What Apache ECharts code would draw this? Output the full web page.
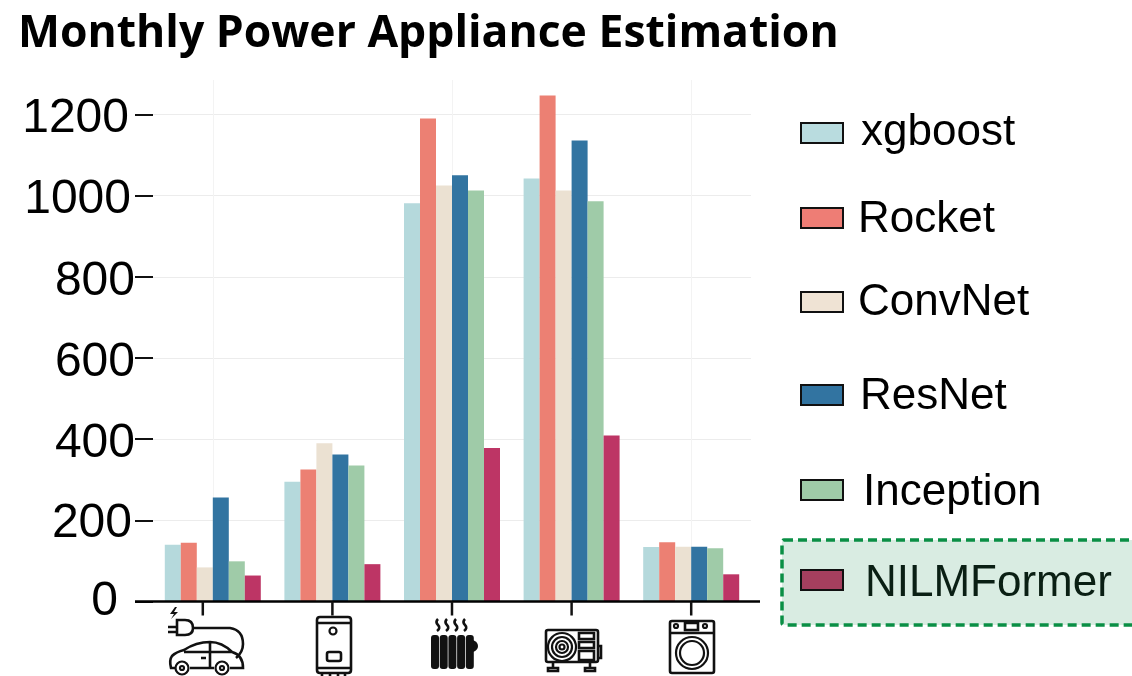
<!DOCTYPE html>
<html><head><meta charset="utf-8">
<style>html,body{margin:0;padding:0;background:#fff}#c{width:1132px;height:676px}</style>
<script src="https://cdn.jsdelivr.net/npm/echarts@6/dist/echarts.min.js"></script></head>
<body><div id="c"></div>
<script>
const appliances = ['EV charger','Water heater','Electric heater','Heat pump','Washing machine'];
const yTicks = [0,200,400,600,800,1000,1200];
const xgboost = [140,295,981,1042,134];
const rocket = [145,325,1190,1247,146];
const convnet = [84,390,1025,1013,135];
const resnet = [256,362,1050,1136,135];
const inception = [99,335,1013,986,131];
const nilmformer = [64,92,378,409,67];

const models = [
  {name:'xgboost',data:xgboost,color:'#b5d9dc',key:'#b9dcdf',top:111,pad:13,dy:0,text:'#000'},
  {name:'Rocket',data:rocket,color:'#ec8073',key:'#ee7d75',top:198,pad:10,dy:4,text:'#000'},
  {name:'ConvNet',data:convnet,color:'#ebe1d2',key:'#efe3d4',top:281,pad:10,dy:2,text:'#000'},
  {name:'ResNet',data:resnet,color:'#3274a1',key:'#3274a1',top:375,pad:12,dy:4,text:'#000'},
  {name:'Inception',data:inception,color:'#9fcba8',key:'#9fcba8',top:471,pad:15,dy:6,text:'#000'},
  {name:'NILMFormer',data:nilmformer,color:'#bd3565',key:'#a53f5e',top:562,pad:17,dy:8,text:'#0a1f14'}
];
const labelOffset = {1200:[9,6],1000:[8,4],800:[10,0],600:[10,0],400:[10,0],200:[6,3],0:[0,17]};
const rich = {};
Object.keys(labelOffset).forEach(k=>{rich['v'+k]={fontFamily:'Liberation Sans',fontSize:48,color:'#000',padding:[labelOffset[k][0],labelOffset[k][1],0,0]};});

const iconStroke = [
 'M177 620H185Q193 620 193 628Q193 635 185 635H177ZM168 627H177M168 632H177M193 628H230Q243 630 243 644Q243 652 236 658',
 'M175 668H171Q169 660 172 656Q176 652 184 650Q196 642 210 642Q222 642 232 652Q243 655 243 668H230M214 668H190M184 652H232M210 642V668M201 658H206',
 'M320 617H348Q351 617 351 620V670Q351 673 348 673H320Q317 673 317 670V620Q317 617 320 617ZM317 623H351M317 668H351M329 652H339Q341 652 341 654V659Q341 661 339 661H329Q327 661 327 659V654Q327 652 329 652ZM322 673V676M330 673V676M338 673V676M345 673V676',
 'M438 619Q435 622 438 625Q441 628 437 631M447 619Q444 622 447 625Q450 628 446 631M456 619Q453 622 456 625Q459 628 455 631M465 619Q462 622 465 625Q468 628 464 631',
 'M548 630H596Q598 630 598 632V660Q598 662 596 662H548Q546 662 546 660V632Q546 630 548 630ZM579 633H594V639H579ZM579 642H594V648H579ZM579 651H594V660H579ZM598 646H601V658H598ZM553 662V668M548 671H558V668H548ZM590 662V668M585 671H595V668H585Z',
 'M672 621H712Q714 621 714 623V671Q714 673 712 673H672Q670 673 670 671V623Q670 621 672 621ZM670 633H714M685 623H698V630H685Z'
];
const iconCircles = [[182,668,6.5],[222,668,6.5],[182,668,2],[222,668,2],[333,631,3.5],[562,647,14],[562,647,10],[562,647,6],[562,647,2.5],[676,626,2],[705,626,2],[692,653,16],[692,653,12]];
const iconFill = [
 'M175 607L170 614H174L171 619L178 612H174L177 607Z',
 'M473 640Q478 642 478 646Q478 650 473 652Z'
];
const radiatorFins = [435,443.7,452.4,461.1,469.8];
const firstTickShift = -10;

iconStroke.forEach((d,i)=>echarts.graphic.registerShape('iconS'+i,echarts.graphic.extendPath(d)));
iconFill.forEach((d,i)=>echarts.graphic.registerShape('iconF'+i,echarts.graphic.extendPath(d)));

const chart = echarts.init(document.getElementById('c'),null,{renderer:'canvas'});
const option = {
  animation:false,
  backgroundColor:'#fff',
  title:{text:'Monthly Power Appliance Estimation',left:18,top:12,padding:0,
    textStyle:{fontFamily:'Open Sans',fontWeight:'bold',fontSize:44.5,color:'#000'}},
  grid:{left:153,top:80,width:598,height:521.5,containLabel:false},
  legend:models.map(m=>({
    selectedMode:false,left:800,top:m.top,padding:0,itemWidth:42,itemHeight:20,icon:'rect',
    data:[{name:m.name,itemStyle:{color:m.key,borderColor:'#111',borderWidth:2}}],
    formatter:n=>`{t|${n}}`,
    textStyle:{rich:{t:{fontFamily:'Liberation Sans',fontSize:44,color:m.text,padding:[m.dy,0,0,m.pad]}}}
  })),
  xAxis:{type:'category',data:appliances,
    axisLine:{show:false},axisTick:{show:false},axisLabel:{show:false},
    splitLine:{show:true,alignWithLabel:true,lineStyle:{color:'#f3f3f3',width:1}}},
  yAxis:{type:'value',min:0,max:1285,interval:200,
    axisLine:{show:false},
    axisTick:{show:true,length:18,lineStyle:{color:'#111',width:2}},
    axisLabel:{margin:18,formatter:v=>`{v${v}|${v}}`,rich:rich,showMaxLabel:false},
    splitLine:{show:true,showMaxLine:false,lineStyle:{color:'#ececec',width:1}}},
  series:models.map(m=>({name:m.name,type:'bar',data:m.data,barWidth:16,barGap:0,
    itemStyle:{color:m.color},z:3}))
};
chart.setOption(option);

function layoutExtras(){
  const zero = chart.convertToPixel({yAxisIndex:0},0);
  const els = [];
  els.push({type:'rect',z:0,shape:{x:782,y:540,width:352,height:85,r:2},
    style:{fill:'#d9ece2',stroke:'#0a8f45',lineWidth:3.5,lineDash:[9,5]}});
  els.push({type:'line',z:10,shape:{x1:135,y1:zero,x2:760,y2:zero},style:{stroke:'#000',lineWidth:2.5}});
  appliances.forEach((a,i)=>{
    const x = chart.convertToPixel({xAxisIndex:0},i)+(i===0?firstTickShift:0);
    els.push({type:'line',z:10,shape:{x1:x,y1:zero,x2:x,y2:zero+14},style:{stroke:'#111',lineWidth:2.5}});
  });
  iconStroke.forEach((d,i)=>els.push({type:'iconS'+i,z:10,style:{fill:null,stroke:'#111',lineWidth:2.6}}));
  iconCircles.forEach(c=>els.push({type:'circle',z:10,shape:{cx:c[0],cy:c[1],r:c[2]},style:{fill:null,stroke:'#111',lineWidth:2.2}}));
  iconFill.forEach((d,i)=>els.push({type:'iconF'+i,z:10,style:{fill:'#111'}}));
  radiatorFins.forEach(x=>els.push({type:'rect',z:10,shape:{x:x-4,y:635,width:8,height:34,r:3},style:{fill:'#111'}}));
  chart.setOption({graphic:{elements:els}});
}
layoutExtras();
</script></body></html>
